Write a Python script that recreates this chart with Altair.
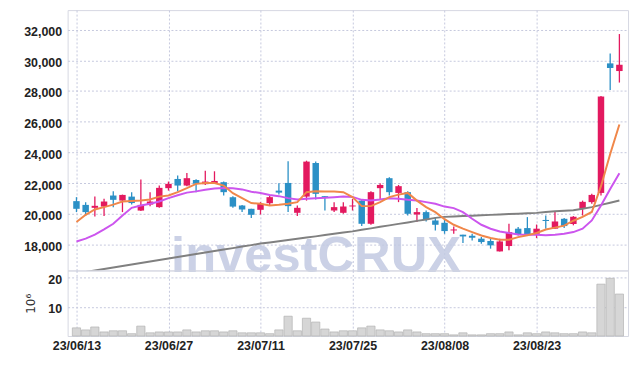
import json
import numpy as np
import pandas as pd
import altair as alt

DATES = ["23/06/13","23/06/14","23/06/15","23/06/16","23/06/19","23/06/20","23/06/21","23/06/22","23/06/23","23/06/26",
         "23/06/27","23/06/28","23/06/29","23/06/30","23/07/03","23/07/04","23/07/05","23/07/06","23/07/07","23/07/10",
         "23/07/11","23/07/12","23/07/13","23/07/14","23/07/17","23/07/18","23/07/19","23/07/20","23/07/21","23/07/24",
         "23/07/25","23/07/26","23/07/27","23/07/28","23/07/31","23/08/01","23/08/02","23/08/03","23/08/04","23/08/07",
         "23/08/08","23/08/09","23/08/10","23/08/11","23/08/14","23/08/16","23/08/17","23/08/18","23/08/21","23/08/22",
         "23/08/23","23/08/24","23/08/25","23/08/28","23/08/29","23/08/30","23/08/31","23/09/01","23/09/04","23/09/05"]

OPEN = [20825,20580,20390,20470,21190,20860,21120,20210,20600,20435,
        21670,22270,21840,22210,21930,21970,22060,21080,20540,20325,
        20260,20690,21510,22010,20065,21120,23310,21150,20215,20065,
        20480,20860,19350,21670,22320,21360,21410,19955,20110,19565,
        19415,18915,18640,18570,18380,18230,17550,17900,19030,19070,
        18700,19600,19030,19675,19330,20325,20760,21360,29800,29300]
HIGH = [21085,20760,21120,20975,21470,21250,21400,22230,21410,21840,
        22100,22490,22660,22250,22810,22770,22100,21150,20580,20325,
        20760,21190,21990,23420,20540,23460,23400,21150,20760,20760,
        20970,20970,21470,21990,22380,21880,21470,20370,20215,19785,
        19675,19175,18640,18700,18490,18380,18380,19350,19135,19785,
        19300,19890,20150,19720,19850,20860,21300,27680,30450,31710]
LOW = [20110,19890,19825,19850,20435,20110,20600,20175,20500,20390,
       21510,21470,21800,21410,21880,21970,21190,20390,20110,19720,
       19955,20540,21250,20110,19850,20860,20930,20215,20110,20000,
       20215,19200,19290,20930,21190,20760,19890,19460,19500,18915,
       18700,18700,18100,18265,18050,17730,17550,17620,18590,18590,
       18420,19030,19030,19070,19250,19890,20650,21190,28070,28550]
CLOSE = [20325,20110,20520,20800,20910,21230,20700,20580,20800,21690,
         21950,21840,22320,21950,22100,22140,21410,20470,20280,19935,
         20650,21085,21380,20500,20390,23400,21300,21085,20435,20475,
         20540,19350,21410,21880,21410,21800,20000,20110,19630,19285,
         18875,18980,18525,18440,18160,17945,18200,18810,18640,18680,
         19030,19530,19500,19200,19805,20780,21230,27640,29500,29710]

# volume in millions
VOLUME = [2.8,2.1,3.1,1.4,1.8,1.8,0.8,3.4,1.1,1.4,
          1.4,1.4,2.1,1.4,1.8,1.8,1.4,1.8,1.1,1.1,
          1.1,0.8,2.1,6.8,1.8,6.1,4.8,2.4,1.4,1.8,
          1.8,2.8,3.4,2.1,1.8,1.4,2.1,1.4,0.8,0.8,
          0.8,0.4,1.1,0.4,0.4,0.8,0.8,1.4,0.4,1.1,
          0.8,1.4,1.1,0.8,0.8,1.4,1.1,17.8,19.8,14.4]

MA_SHORT = [19460,19935,20280,20435,20600,20800,20840,20860,20930,21120,
            21190,21410,21670,21950,22010,22010,21840,21340,21020,20700,
            20650,20540,20585,20650,20760,21410,21470,21450,21450,21410,
            21085,20500,20500,20760,21085,21250,21360,20860,20435,20110,
            19650,19285,19030,18810,18590,18420,18310,18310,18480,18600,
            18750,18980,19100,19230,19550,19800,20120,21800,23900,25820]
MA_MID = [18200,18380,18640,18980,19350,19890,20390,20540,20650,20800,
          21020,21210,21380,21460,21570,21650,21680,21670,21590,21440,
          21350,21230,21150,21020,20930,20975,21020,21040,21085,21120,
          21100,20910,20860,20930,21020,20975,20910,20860,20760,20650,
          20470,20370,20110,19675,19285,19030,18850,18745,18655,18640,
          18640,18600,18640,18700,18810,19030,19565,20540,21620,22640]
MA_LONG = [16110,16210,16305,16400,16500,16600,16695,16790,16890,16985,
           17085,17180,17280,17375,17475,17570,17670,17765,17865,17960,
           18060,18135,18215,18300,18375,18455,18530,18615,18695,18775,
           18855,18955,19050,19150,19245,19345,19440,19540,19635,19735,
           19800,19825,19850,19875,19905,19930,19955,19980,20005,20030,
           20060,20115,20160,20195,20225,20330,20435,20580,20720,20865]

TICK_IDX = [0, 10, 20, 30, 40, 50]
PRICE_TICKS = [18000, 20000, 22000, 24000, 26000, 28000, 30000, 32000]
VOL_TICKS = [10, 20]

UP = "#e3195f"
DOWN = "#2b90c6"
FONT = "Liberation Sans"
LBL = dict(labelFont=FONT, labelFontSize=12.5, labelFontWeight="bold", labelColor="#222",
           labelOverlap=False)

df = pd.DataFrame({
    "idx": np.arange(len(DATES)),
    "date": DATES,
    "open": OPEN, "high": HIGH, "low": LOW, "close": CLOSE,
    "vol": VOLUME,
    "ma_s": MA_SHORT, "ma_m": MA_MID, "ma_l": MA_LONG,
})
df["dir"] = np.where(df["close"] >= df["open"], "up", "down")

xscale = alt.Scale(domain=[-0.42, 59.4], nice=False, zero=False)
label_expr = json.dumps(DATES) + "[datum.value]"
grid_kw = dict(gridColor="#c6c9de", gridDash=[2, 2], gridWidth=1)

x_price = alt.X("idx:Q", scale=xscale,
                axis=alt.Axis(values=TICK_IDX, labels=False, ticks=False, domain=False,
                              grid=True, title=None, **grid_kw))
yscale = alt.Scale(domain=[16310, 33270], nice=False, zero=False)
y_axis = alt.Axis(values=PRICE_TICKS, format=",d", title=None, ticks=False, domain=False,
                  labelPadding=6, labelOffset=2, grid=True, **LBL, **grid_kw)
color = alt.Color("dir:N", scale=alt.Scale(domain=["up", "down"], range=[UP, DOWN]), legend=None)

base = alt.Chart(df)

watermark = alt.Chart(pd.DataFrame({"t": ["investCRUX"]})).mark_text(
    font="Liberation Sans", fontSize=51, fontWeight="bold",
    color="#c2cae2", opacity=0.85, align="center", baseline="alphabetic"
).encode(x=alt.value(250), y=alt.value(264), text="t:N")

wicks = base.mark_rule(strokeWidth=1.3).encode(
    x=x_price, y=alt.Y("low:Q", scale=yscale, axis=y_axis), y2="high:Q", color=color)
bodies = base.mark_bar(size=6.5).encode(
    x=x_price, y=alt.Y("open:Q", scale=yscale, axis=y_axis), y2="close:Q", color=color)

line_long = base.mark_line(color="#808080", strokeWidth=2, clip=True).encode(
    x=x_price, y=alt.Y("ma_l:Q", scale=yscale, axis=y_axis))
line_mid = base.mark_line(color="#cc55ee", strokeWidth=2, clip=True).encode(
    x=x_price, y=alt.Y("ma_m:Q", scale=yscale, axis=y_axis))
line_short = base.mark_line(color="#f0874a", strokeWidth=2, clip=True).encode(
    x=x_price, y=alt.Y("ma_s:Q", scale=yscale, axis=y_axis))

price = alt.layer(watermark, wicks, bodies, line_long, line_mid, line_short).properties(
    width=564, height=262)

vol = base.mark_bar(size=8.3, color="#d6d6d6", stroke="#b3b3b3", strokeWidth=0.7).encode(
    x=alt.X("idx:Q", scale=xscale,
            axis=alt.Axis(values=TICK_IDX, labelExpr=label_expr, ticks=False, domain=False,
                          grid=True, title=None, labelPadding=4, **LBL, **grid_kw)),
    y=alt.Y("vol:Q", scale=alt.Scale(domain=[0, 22.5], nice=False),
            axis=alt.Axis(values=VOL_TICKS, ticks=False, domain=False, title="10⁶",
                          titleFont="DejaVu Sans", titleFontSize=12, titleFontWeight="normal",
                          titleColor="#333", titlePadding=10, labelPadding=6, labelOffset=2,
                          grid=True, **LBL, **grid_kw)),
).properties(width=564, height=66)

chart = alt.vconcat(price, vol, spacing=0, bounds="flush").properties(
    padding={"left": 15, "top": 0, "right": 5, "bottom": 5}
).configure_view(stroke="#d6d8e2", strokeWidth=1)

chart.save("out.html", embed_options={"renderer": "svg", "actions": False})
